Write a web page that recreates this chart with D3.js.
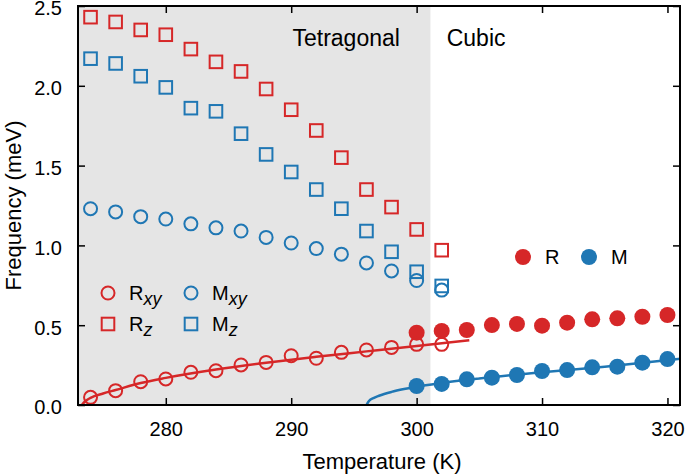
<!DOCTYPE html>
<html>
<head>
<meta charset="utf-8">
<script src="https://cdn.jsdelivr.net/npm/d3@7"></script>
<style>
body { margin: 0; background: white; }
text { font-family: "Liberation Sans", Arial, sans-serif; }
</style>
</head>
<body>
<div id="chart"></div>
<script>
// data
const tOpen = [274, 276, 278, 280, 282, 284, 286, 288, 290, 292, 294, 296, 298, 300, 302];
const rz  = [2.43, 2.40, 2.35, 2.32, 2.23, 2.15, 2.09, 1.98, 1.85, 1.72, 1.55, 1.35, 1.24, 1.10, 0.97];
const mz  = [2.17, 2.14, 2.06, 1.99, 1.86, 1.84, 1.70, 1.57, 1.46, 1.35, 1.23, 1.09, 0.96, 0.835, 0.746];
const mxy = [1.23, 1.21, 1.18, 1.165, 1.135, 1.11, 1.09, 1.05, 1.015, 0.98, 0.945, 0.89, 0.84, 0.78, 0.72];
const rxy = [0.048, 0.09, 0.146, 0.163, 0.205, 0.215, 0.251, 0.267, 0.309, 0.293, 0.33, 0.345, 0.361, 0.38, 0.38];

const tCubic = [300, 302, 304, 306, 308, 310, 312, 314, 316, 318, 320];
const rCubic = [0.453, 0.464, 0.47, 0.501, 0.508, 0.497, 0.516, 0.537, 0.543, 0.553, 0.564];
const mCubic = [0.119, 0.132, 0.161, 0.171, 0.188, 0.213, 0.219, 0.236, 0.24, 0.265, 0.288];

// fit curves
const rFitT = [273.3, 273.6, 274, 275, 276, 278, 280, 284, 288, 292, 296, 300, 304.2];
const rFitF = [0.0, 0.025, 0.045, 0.072, 0.094, 0.138, 0.17, 0.222, 0.265, 0.302, 0.336, 0.37, 0.405];
const mFitT = [296.0, 296.2, 296.6, 297, 298, 299, 300, 302, 305, 310, 315, 321];
const mFitF = [0.0, 0.025, 0.045, 0.058, 0.082, 0.1, 0.115, 0.138, 0.166, 0.205, 0.24, 0.29];

const xTicks = [280, 290, 300, 310, 320];
const yTicks = [0, 0.5, 1.0, 1.5, 2.0, 2.5];
const tBoundary = 301.1;

const red = "#d62728", blue = "#1f77b4";

width = 685;
height = 476;
const margin = {left: 78, right: 5, top: 6, bottom: 71};
const pw = width - margin.left - margin.right;
const ph = height - margin.top - margin.bottom;

svg = d3.select("#chart").append("svg")
    .attr("width", width)
    .attr("height", height);

const g = svg.append("g").attr("transform", `translate(${margin.left},${margin.top})`);

const x = d3.scaleLinear().domain([273, 321]).range([0, pw]);
const y = d3.scaleLinear().domain([0, 2.5]).range([ph, 0]);

g.append("defs").append("clipPath").attr("id", "clip")
    .append("rect").attr("width", pw).attr("height", ph);

// tetragonal shading
g.append("rect")
    .attr("x", 0).attr("y", 0)
    .attr("width", x(tBoundary))
    .attr("height", ph)
    .attr("fill", "#e5e5e5");

// axes with inward ticks on all sides
const fmt = d3.format(".1f");
g.append("g").attr("transform", `translate(0,${ph})`)
    .call(d3.axisBottom(x).tickValues(xTicks).tickSizeInner(-7).tickSizeOuter(0).tickPadding(17))
    .call(a => a.select(".domain").remove());
g.append("g")
    .call(d3.axisTop(x).tickValues(xTicks).tickSizeInner(-7).tickSizeOuter(0).tickFormat(""))
    .call(a => a.select(".domain").remove());
g.append("g").attr("class", "yleft")
    .call(d3.axisLeft(y).tickValues(yTicks).tickSizeInner(-7).tickSizeOuter(0).tickPadding(16).tickFormat(fmt))
    .call(a => a.select(".domain").remove());
g.append("g").attr("transform", `translate(${pw},0)`)
    .call(d3.axisRight(y).tickValues(yTicks).tickSizeInner(-7).tickSizeOuter(0).tickFormat(""))
    .call(a => a.select(".domain").remove());

g.selectAll(".tick line").attr("stroke", "#000").attr("stroke-width", 1.5);
g.selectAll(".tick text")
    .attr("font-family", "Liberation Sans, Arial, sans-serif")
    .attr("font-size", 20)
    .attr("fill", "#000");
g.selectAll(".yleft .tick text").attr("dy", "0.44em");

// phase labels
g.append("text").attr("x", x(290.1)).attr("y", 40)
    .attr("font-size", 23).text("Tetragonal");
g.append("text").attr("x", x(302.4)).attr("y", 40)
    .attr("font-size", 23).text("Cubic");

const plot = g.append("g").attr("clip-path", "url(#clip)");

// cubic filled points
function filled(ts, vs, color) {
    plot.append("g").selectAll("circle")
        .data(ts.map((t, i) => [t, vs[i]]))
        .join("circle")
        .attr("cx", d => x(d[0]))
        .attr("cy", d => y(d[1]))
        .attr("r", 8)
        .attr("fill", color);
}

// fit lines
const line = d3.line().x(d => x(d[0])).y(d => y(d[1])).curve(d3.curveMonotoneX);
function fit(ts, vs, color) {
    plot.append("path")
        .datum(ts.map((t, i) => [t, vs[i]]))
        .attr("d", line)
        .attr("fill", "none")
        .attr("stroke", color)
        .attr("stroke-width", 2.5);
}

function openCircles(vs, color) {
    plot.append("g").selectAll("circle")
        .data(tOpen.map((t, i) => [t, vs[i]]))
        .join("circle")
        .attr("cx", d => x(d[0]))
        .attr("cy", d => y(d[1]))
        .attr("r", 6.5)
        .attr("fill", "none")
        .attr("stroke", color)
        .attr("stroke-width", 2);
}

function openSquares(vs, color) {
    plot.append("g").selectAll("rect")
        .data(tOpen.map((t, i) => [t, vs[i]]))
        .join("rect")
        .attr("x", d => x(d[0]) - 6.3)
        .attr("y", d => y(d[1]) - 6.3)
        .attr("width", 12.6)
        .attr("height", 12.6)
        .attr("fill", "none")
        .attr("stroke", color)
        .attr("stroke-width", 2);
}

fit(mFitT, mFitF, blue);
filled(tCubic, rCubic, red);
filled(tCubic, mCubic, blue);
fit(rFitT, rFitF, red);
openSquares(rz, red);
openSquares(mz, blue);
openCircles(mxy, blue);
openCircles(rxy, red);

// frame
g.append("rect").attr("width", pw).attr("height", ph)
    .attr("fill", "none").attr("stroke", "#000").attr("stroke-width", 2);

// legend, open symbols
function legendLabel(px, py, main, sub) {
    const t = g.append("text").attr("x", px).attr("y", py + 7).attr("font-size", 20);
    t.append("tspan").text(main);
    t.append("tspan").attr("dy", 5).attr("font-size", 18).attr("font-style", "italic").text(sub);
}
const leg = [
    {kind: "circle", color: red, main: "R", sub: "xy", lx: 30, ly: 287},
    {kind: "circle", color: blue, main: "M", sub: "xy", lx: 113, ly: 287},
    {kind: "square", color: red, main: "R", sub: "z", lx: 30, ly: 318},
    {kind: "square", color: blue, main: "M", sub: "z", lx: 113, ly: 318}
];
leg.forEach(d => {
    if (d.kind === "circle") {
        g.append("circle").attr("cx", d.lx).attr("cy", d.ly).attr("r", 6.5)
            .attr("fill", "none").attr("stroke", d.color).attr("stroke-width", 2);
    } else {
        g.append("rect").attr("x", d.lx - 6.3).attr("y", d.ly - 6.3).attr("width", 12.6).attr("height", 12.6)
            .attr("fill", "none").attr("stroke", d.color).attr("stroke-width", 2);
    }
    legendLabel(d.lx + 21, d.ly, d.main, d.sub);
});

// legend, filled symbols
[{color: red, label: "R", lx: 445}, {color: blue, label: "M", lx: 511}].forEach(d => {
    g.append("circle").attr("cx", d.lx).attr("cy", 251).attr("r", 8).attr("fill", d.color);
    g.append("text").attr("x", d.lx + 22).attr("y", 258).attr("font-size", 20).text(d.label);
});

// axis titles
svg.append("text")
    .attr("x", margin.left + pw / 2 + 3)
    .attr("y", 469)
    .attr("text-anchor", "middle")
    .attr("font-size", 22)
    .text("Temperature (K)");
svg.append("text")
    .attr("transform", `translate(21,${margin.top + ph / 2}) rotate(-90)`)
    .attr("text-anchor", "middle")
    .attr("font-size", 22)
    .text("Frequency (meV)");
</script>
</body>
</html>
